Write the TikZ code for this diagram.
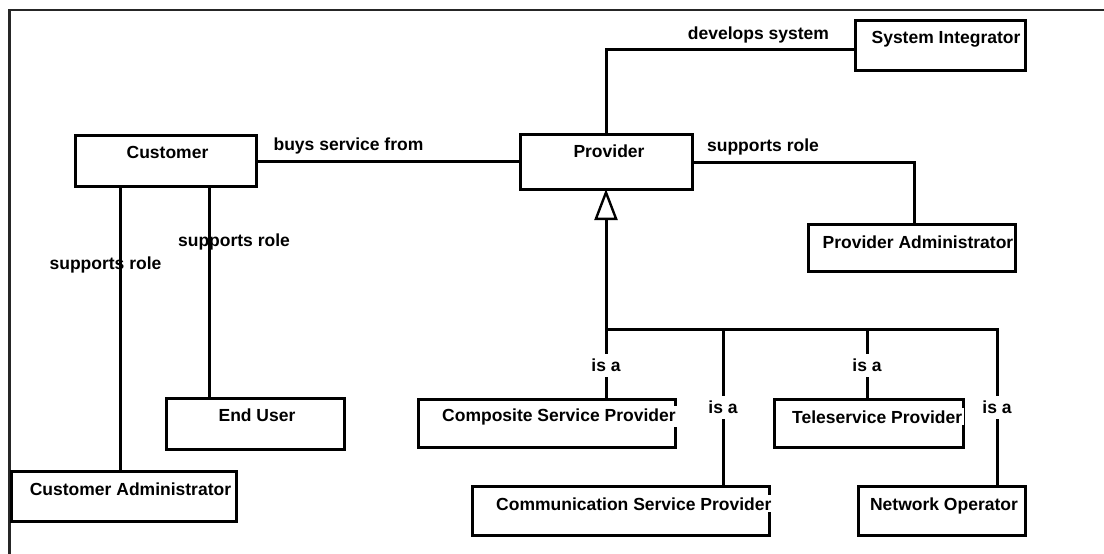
\documentclass[tikz,border=0pt]{standalone}
\usepackage{fontspec}
\setmainfont{Liberation Sans}
\usetikzlibrary{arrows.meta}
\begin{document}
\begin{tikzpicture}[x=1pt,y=-1pt,
  every node/.style={font=\fontsize{17.5}{20}\selectfont\bfseries},
  box/.style={draw,line width=3pt,rectangle,inner sep=0pt,outer sep=0pt,anchor=north west,fill=white},
  classname/.style={anchor=base,inner sep=2pt},
  cutname/.style={anchor=base west,inner sep=2pt,fill=white},
  rel/.style={anchor=base,inner sep=0pt},
  isa/.style={anchor=base,fill=white,inner xsep=2pt,inner ysep=5.5pt,text height=12pt,text depth=0pt},
  link/.style={line width=3pt},
  frame/.style={line width=2.4pt,black!85}
]
\useasboundingbox (0,0) rectangle (1104,554);
\clip (0,0) rectangle (1104,554);
\fill[white] (0,0) rectangle (1104,554);
\draw[frame] (9.5,10) rectangle (1130,580);

% class boxes
\node[box,minimum width=181pt,minimum height=51pt] (cust)    at (75,135)  {};
\node[box,minimum width=172pt,minimum height=55pt] (prov)    at (520,134) {};
\node[box,minimum width=170pt,minimum height=50pt] (sysint)  at (855,20)  {};
\node[box,minimum width=207pt,minimum height=47pt] (provadm) at (808,224) {};
\node[box,minimum width=178pt,minimum height=51pt] (enduser) at (166,398) {};
\node[box,minimum width=225pt,minimum height=50pt] (custadm) at (11,471)  {};
\node[box,minimum width=257pt,minimum height=48pt] (comp)    at (418,399) {};
\node[box,minimum width=189pt,minimum height=48pt] (tele)    at (774,399) {};
\node[box,minimum width=297pt,minimum height=49pt] (comm)    at (472,486) {};
\node[box,minimum width=167pt,minimum height=49pt] (netop)   at (858,486) {};

% helper coordinates for connector routes
\coordinate (buysy) at (0,161.5);
\coordinate (supy)  at (0,162);
\coordinate (devy)  at (0,49);
\coordinate (pax)   at (914,0);
\coordinate (cax)   at (120,0);
\coordinate (eux)   at (209,0);
\coordinate (bus)   at (606,329);
\coordinate (commx) at (723,0);
\coordinate (telex) at (867,0);
\coordinate (netx)  at (997,0);

% associations
\draw[link] (cust.east |- buysy) -- (prov.west |- buysy);
\draw[link] (prov.north) |- (sysint.west |- devy);
\draw[link] (prov.east |- supy) -| (provadm.north -| pax);
\draw[link] (cust.south -| cax) -- (custadm.north -| cax);
\draw[link] (cust.south -| eux) -- (enduser.north -| eux);

% generalisation tree
\draw[link,{Triangle[open,length=31pt,width=23pt,line width=2.4pt]}-] (prov.south) -- (comp.north -| prov.south);
\draw[link] (bus) -| (netop.north -| netx);
\draw[link] (bus -| commx) -- (comm.north -| commx);
\draw[link] (bus -| telex) -- (tele.north -| telex);

% class names
\node[classname] (custT)    at (167.5,158) {Customer};
\node[classname] (provT)    at (609,157)   {Provider};
\node[classname] (sysintT)  at (946,43)    {System Integrator};
\node[classname] (provadmT) at (918,248)   {Provider Administrator};
\node[classname] (enduserT) at (257,421)   {End User};
\node[classname] (custadmT) at (130.5,495) {Customer Administrator};
\node[classname] (netopT)   at (944,510)   {Network Operator};
\node[cutname]   (compT)    at (440,421)   {Composite Service Provider};
\node[cutname]   (teleT)    at (790,423)   {Teleservice Provider};
\node[cutname]   (commT)    at (494,510)   {Communication Service Provider};

% association labels
\node[rel] (buysL)  at (348.5,150) {buys service from};
\node[rel] (devL)   at (758.5,39)  {develops system};
\node[rel] (supPL)  at (763,151)   {supports role};
\node[rel] (supEL)  at (234,246)   {supports role};
\node[rel] (supCL)  at (105.5,269) {supports role};

% generalisation labels
\node[isa] (isa1) at (606,371.5)   {is a};
\node[isa] (isa2) at (723,413.5)   {is a};
\node[isa] (isa3) at (867,371.5)   {is a};
\node[isa] (isa4) at (997,413.5)   {is a};
\end{tikzpicture}
\end{document}
